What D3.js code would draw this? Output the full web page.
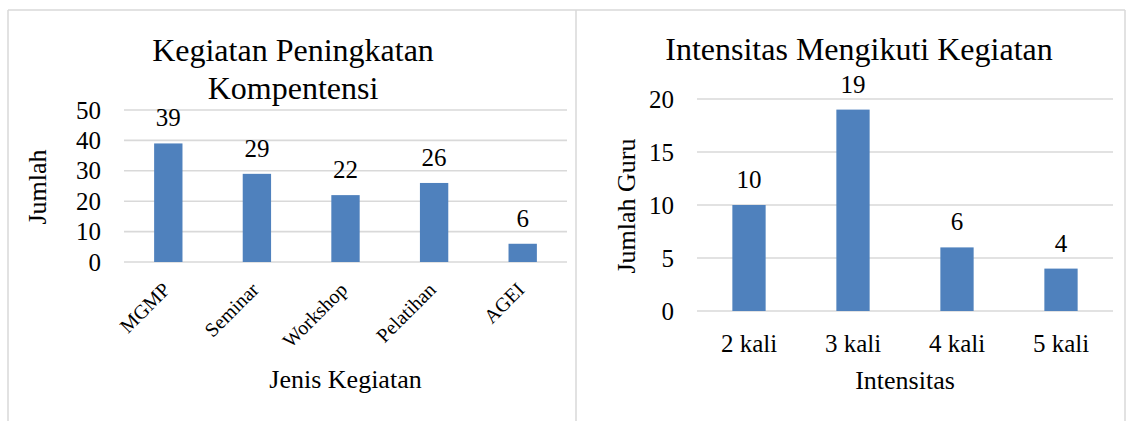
<!DOCTYPE html>
<html>
<head>
<meta charset="utf-8">
<script src="https://cdn.jsdelivr.net/npm/d3@7"></script>
<style>
  html, body { margin: 0; padding: 0; background: #ffffff; }
  svg { display: block; }
  text { font-family: "Liberation Serif", "Times New Roman", serif; fill: #000; }
</style>
</head>
<body>
<svg id="chart" width="1129" height="421"></svg>
<script>
// ---- Data: left chart ----
const categories1 = ["MGMP", "Seminar", "Workshop", "Pelatihan", "AGEI"];
const values1 = [39, 29, 22, 26, 6];
const ticks1 = [0, 10, 20, 30, 40, 50];
const title1 = ["Kegiatan Peningkatan", "Kompentensi"];
const xTitle1 = "Jenis Kegiatan";
const yTitle1 = "Jumlah";

// ---- Data: right chart ----
const categories2 = ["2 kali", "3 kali", "4 kali", "5 kali"];
const values2 = [10, 19, 6, 4];
const ticks2 = [0, 5, 10, 15, 20];
const title2 = ["Intensitas Mengikuti Kegiatan"];
const xTitle2 = "Intensitas";
const yTitle2 = "Jumlah Guru";

const BAR = "#4f81bd";
const GRID = "#d9d9d9";
const svg = d3.select("#chart");

// frame
const frame = svg.append("g").attr("stroke", GRID).attr("stroke-width", 1.5).attr("fill", "none");
frame.append("line").attr("x1", 8).attr("x2", 1125).attr("y1", 10).attr("y2", 10);
frame.append("line").attr("x1", 8).attr("x2", 8).attr("y1", 10).attr("y2", 421);
frame.append("line").attr("x1", 576).attr("x2", 576).attr("y1", 10).attr("y2", 421);
frame.append("line").attr("x1", 1125).attr("x2", 1125).attr("y1", 10).attr("y2", 421);

function drawChart(cfg) {
  const g = svg.append("g");
  const x = d3.scaleBand().domain(cfg.categories).range([cfg.x0, cfg.x1]).padding(0);
  const y = d3.scaleLinear().domain([0, d3.max(cfg.ticks)]).range([cfg.yBottom, cfg.yTop]);
  const bw = x.bandwidth() * 0.32;

  // gridlines
  g.append("g").selectAll("line").data(cfg.ticks).join("line")
    .attr("x1", cfg.x0).attr("x2", cfg.x1)
    .attr("y1", d => y(d)).attr("y2", d => y(d))
    .attr("stroke", GRID).attr("stroke-width", 1.6);

  // bars
  g.append("g").selectAll("rect").data(cfg.values).join("rect")
    .attr("x", (d, i) => x(cfg.categories[i]) + x.bandwidth() / 2 - bw / 2)
    .attr("width", bw)
    .attr("y", d => y(d))
    .attr("height", d => y(0) - y(d))
    .attr("fill", BAR);

  // data labels
  g.append("g").selectAll("text").data(cfg.values).join("text")
    .attr("x", (d, i) => x(cfg.categories[i]) + x.bandwidth() / 2)
    .attr("y", d => y(d) - 17)
    .attr("text-anchor", "middle")
    .style("font-size", "25px")
    .text(d => d);

  // y axis
  const ya = g.append("g").attr("transform", `translate(${cfg.x0},0)`)
    .call(d3.axisLeft(y).tickValues(cfg.ticks).tickSize(0).tickPadding(23).tickFormat(d3.format("d")));
  ya.select(".domain").remove();
  ya.selectAll("text").style("font-family", "'Liberation Serif', serif").style("font-size", "25px").attr("fill", "#000");

  // x axis
  const xa = g.append("g").attr("transform", `translate(0,${cfg.yBottom})`)
    .call(d3.axisBottom(x).tickSize(0));
  xa.select(".domain").remove();
  const xt = xa.selectAll("text").style("font-family", "'Liberation Serif', serif").attr("fill", "#000");
  if (cfg.rotate) {
    xt.style("font-size", "20px")
      .attr("dy", null)
      .attr("x", 3).attr("y", 29)
      .attr("text-anchor", "end")
      .attr("transform", "rotate(-45,3,29)");
  } else {
    xt.style("font-size", "25px").attr("dy", null).attr("y", 41);
  }

  // titles
  cfg.title.forEach((t, i) => {
    g.append("text").attr("x", cfg.titleX).attr("y", cfg.titleY + i * 38)
      .attr("text-anchor", "middle").style("font-size", "32px").text(t);
  });
  g.append("text").attr("x", (cfg.x0 + cfg.x1) / 2).attr("y", cfg.xTitleY)
    .attr("text-anchor", "middle").style("font-size", "26px").text(cfg.xTitle);
  g.append("text")
    .attr("transform", `translate(${cfg.yTitleX},${cfg.yTitleY}) rotate(-90)`)
    .attr("text-anchor", "middle").style("font-size", "26px").text(cfg.yTitle);
}

drawChart({
  categories: categories1, values: values1, ticks: ticks1,
  x0: 124, x1: 567, yBottom: 262, yTop: 110, rotate: true,
  title: title1, titleX: 293, titleY: 61,
  xTitle: xTitle1, xTitleY: 388,
  yTitle: yTitle1, yTitleX: 46, yTitleY: 187
});

drawChart({
  categories: categories2, values: values2, ticks: ticks2,
  x0: 697, x1: 1113, yBottom: 311, yTop: 99, rotate: false,
  title: title2, titleX: 859, titleY: 60,
  xTitle: xTitle2, xTitleY: 389,
  yTitle: yTitle2, yTitleX: 635, yTitleY: 206
});
</script>
</body>
</html>
